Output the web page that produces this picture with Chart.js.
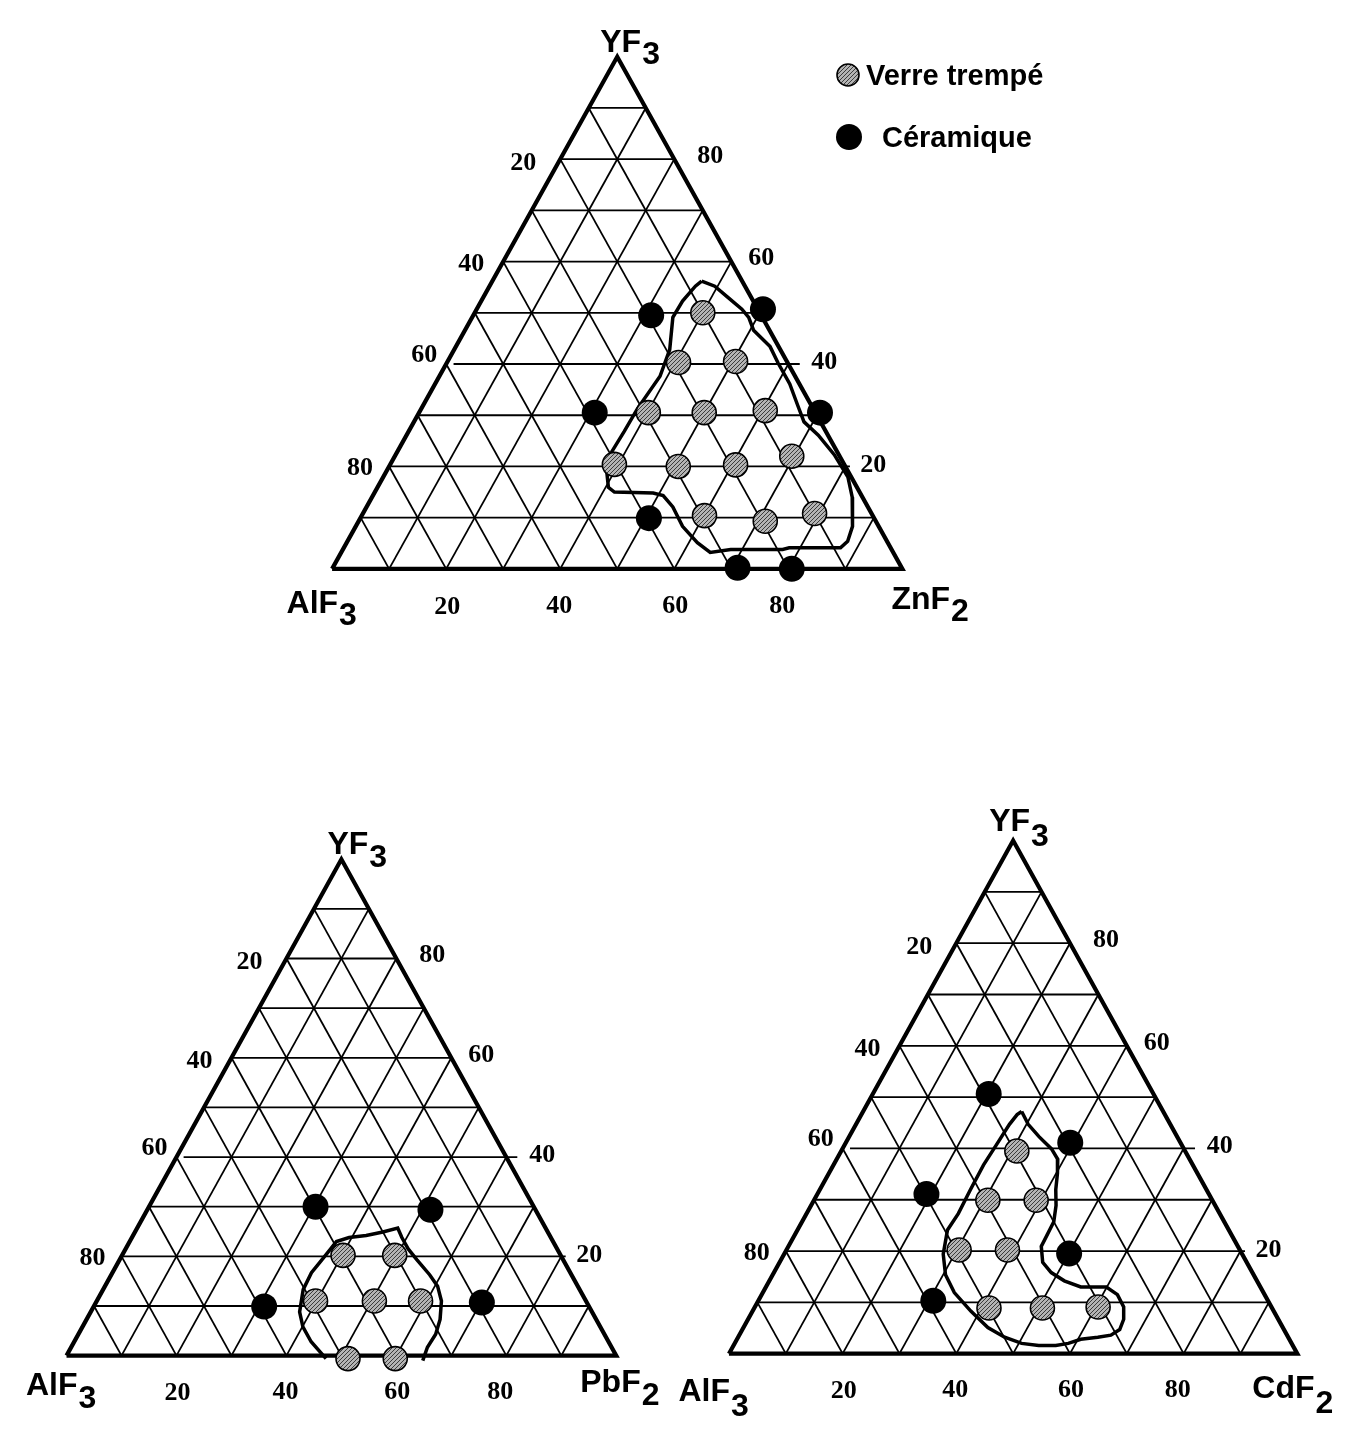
<!DOCTYPE html>
<html>
<head>
<meta charset="utf-8">
<script src="https://cdn.jsdelivr.net/npm/chart.js@4.4.0/dist/chart.umd.min.js"></script>
<style>
html,body{margin:0;padding:0;background:#fff;}
#wrap{position:relative;width:1356px;height:1433px;}
</style>
</head>
<body>
<div id="wrap"><canvas id="c" width="1356" height="1433"></canvas></div>
<script>
// ---------- DATA (compositions: [second component %, YF3 %]; AlF3 = remainder) ----------
const tickValues = [20, 40, 60, 80];
const seriesNames = ['Verre trempé', 'Céramique'];

// AlF3 - ZnF2 - YF3
const znNames = ['AlF', '3', 'ZnF', '2', 'YF', '3'];
const znVerre = [[40,50],[40.6,40.3],[50.5,40.5],[40.2,30.5],[50,30.5],[60.5,30.9],[39.3,20.4],[50.7,20],[60.6,20.3],[69.6,22],[60.1,10.4],[71.3,9.3],[79.2,10.8]];
const znCeram = [[31.2,49.5],[50.2,50.7],[30.8,30.5],[70.3,30.5],[50.6,9.9],[71,0.2],[80.6,0]];
const znContour = [[36.7,56.2],[39.5,55.2],[42.9,53.0],[46.5,50.7],[48.5,49.1],[50.6,46.6],[55.1,43.4],[58.1,40.2],[62.2,36.1],[65.7,31.9],[68.4,28.7],[72.2,26.1],[76.9,22.3],[81.5,17.9],[84.2,14.0],[87.1,8.3],[87.7,5.4],[87.1,4.1],[78.1,4.1],[77.1,3.8],[68.0,3.8],[64.7,3.2],[61.5,5.1],[57.3,8.3],[53.7,12.1],[50.9,14.3],[48.9,14.8],[42.0,15.0],[40.5,15.9],[38.6,19.1],[37.6,22.9],[37.8,26.8],[37.9,31.3],[38.7,37.6],[37.8,42.8],[35.2,49.1],[35.3,52.3],[36.1,55.2]];

// AlF3 - PbF2 - YF3
const pbNames = ['AlF', '3', 'PbF', '2', 'YF', '3'];
const pbVerre = [[40.2,20.2],[49.6,20.2],[39.8,11],[50.5,11],[58.9,11],[51.5,-0.6],[60.1,-0.6]];
const pbCeram = [[30.3,30],[51.5,29.4],[31,9.9],[70.2,10.7]];
const pbContour = [[47.5,-0.6],[43.1,2.8],[40.1,5.8],[38.0,8.8],[36.4,13.3],[36.2,16.7],[36.7,18.9],[37.3,21.5],[37.6,23.0],[39.5,23.8],[42.4,24.2],[45.1,24.9],[47.4,25.7],[49.1,23.8],[51.4,21.5],[54.1,19.3],[57.9,16.3],[60.5,14.0],[62.7,11.0],[64.3,7.3],[65.0,4.3],[64.8,1.7],[65.3,-1.0]];

// AlF3 - CdF2 - YF3
const cdNames = ['AlF', '3', 'CdF', '2', 'YF', '3'];
const cdVerre = [[30.9,39.5],[30.6,29.9],[39.1,29.9],[30.4,20.2],[38.9,20.2],[41.3,8.9],[50.7,8.9],[60.4,9.1]];
const cdCeram = [[20.4,50.6],[39.5,41.1],[19.2,31.1],[50.1,19.5],[30.8,10.3]];
const cdContour = [[27.9,47.2],[30.3,44.7],[33.4,42.3],[36.8,39.9],[38.9,37.9],[40.2,35.2],[41.5,32.0],[43.1,28.9],[44.3,25.7],[44.4,23.3],[44.5,20.9],[46.3,17.8],[48.8,15.8],[51.9,14.2],[55.4,13.0],[59.9,13.0],[62.6,11.5],[64.9,9.1],[66.1,6.7],[66.4,4.7],[65.4,3.6],[63.3,3.2],[60.5,2.8],[58.7,2.0],[56.7,1.6],[53.7,1.6],[50.5,2.0],[46.9,3.2],[43.0,5.1],[38.4,8.3],[33.7,11.9],[30.4,15.4],[28.0,19.4],[26.4,24.1],[26.7,27.3],[26.5,32.0],[26.4,36.8],[26.7,40.7],[27.0,44.7],[27.4,46.6]];

// ---------- LAYOUT ----------
const W = 1356, H = 1433;
const DIAGRAMS = [
  { names: znNames, verre: znVerre, ceram: znCeram, contour: znContour, closed: true,
    geo: { lx: 325, rx: 907, base: 566, apex: 44 },
    lab: { apex: [-17, -5], left: [6, 44], right: [-11, 40], sub: 12 } },
  { names: pbNames, verre: pbVerre, ceram: pbCeram, contour: pbContour, closed: false,
    geo: { lx: 54, rx: 615, base: 1368, apex: 862 },
    lab: { apex: [-14, -5], left: [11, 39], right: [-36, 36], sub: 13 } },
  { names: cdNames, verre: cdVerre, ceram: cdCeram, contour: cdContour, closed: true,
    geo: { lx: 730, rx: 1310, base: 1366, apex: 843 },
    lab: { apex: [-24, -10], left: [1, 47], right: [-45, 44], sub: 15 } }
];
const LEFT_OFF  = { 20: [-37, 4], 40: [-32, 3], 60: [-22, -9], 80: [-29, 2] };
const RIGHT_OFF = { 20: [28, -1], 40: [36, -2], 60: [30, -3], 80: [36, -3] };
const BOTTOM_OFF = { 20: [1, 38], 40: [-1, 37], 60: [1, 37], 80: [-6, 37] };

function tern(b, c) { return { x: b + c / 2, y: c }; }

// hatched grey fill
const pc = document.createElement('canvas'); pc.width = 4; pc.height = 4;
const pg = pc.getContext('2d');
pg.fillStyle = '#b4b4b4'; pg.fillRect(0, 0, 4, 4);
pg.fillStyle = '#3c3c3c';
for (let i = 0; i < 4; i++) pg.fillRect(i, 3 - i, 1, 1);
const hatch = pg.createPattern(pc, 'repeat');

const datasets = [];
const scales = {};
DIAGRAMS.forEach((d, i) => {
  const xid = 'x' + i, yid = 'y' + i, g = d.geo;
  const pxX = (g.rx - g.lx) / 100, pxY = (g.base - g.apex) / 100;
  scales[xid] = { type: 'linear', axis: 'x', display: false, min: -g.lx / pxX, max: (W - g.lx) / pxX };
  scales[yid] = { type: 'linear', axis: 'y', display: false, min: -(H - g.base) / pxY, max: 100 + g.apex / pxY };
  const ax = { xAxisID: xid, yAxisID: yid };
  const line = (pts, w, order) => ({ ...ax, data: pts, showLine: true, pointRadius: 0, borderColor: '#000',
    borderWidth: w, tension: 0, fill: false, order: order, borderJoinStyle: 'miter', borderCapStyle: 'butt' });

  datasets.push({ ...ax, label: seriesNames[1], data: d.ceram.map(p => tern(p[0], p[1])), showLine: false,
    pointRadius: 13, pointBackgroundColor: '#000', pointBorderColor: '#000', pointBorderWidth: 0, order: 0 });
  datasets.push({ ...ax, label: seriesNames[0], data: d.verre.map(p => tern(p[0], p[1])), showLine: false,
    pointRadius: 12, pointBackgroundColor: hatch, pointBorderColor: '#000', pointBorderWidth: 1.6, order: 0 });

  const cpts = d.contour.map(p => tern(p[0], p[1]));
  if (d.closed) cpts.push(cpts[0]);
  datasets.push(line(cpts, 3.5, 1));

  // grid (10 % steps)
  for (let k = 1; k <= 9; k++) {
    const v = k * 10;
    let x0 = v / 2, x1 = 100 - v / 2;
    if (v === 40) { x0 += 1.3; x1 += 2; }
    if (v === 20) { x1 += 0.8; }
    datasets.push(line([{ x: x0, y: v }, { x: x1, y: v }], 1.8, 2));
    datasets.push(line([tern(v, 0), tern(v, 100 - v)], 1.8, 2));
    datasets.push(line([tern(100 - v, 0), tern(0, 100 - v)], 1.8, 2));
  }
  datasets.push(line([tern(0, 0), tern(100, 0), tern(0, 100), tern(0, 0)], 4.2, 1));
});

function chem(ctx, main, sub, x, y, align, subDy) {
  const w = ctx.measureText(main).width;
  const left = align === 'left' ? x : x - w;
  ctx.textAlign = 'left';
  ctx.fillText(main, left, y);
  ctx.fillText(sub, left + w + 1, y + subDy);
}

const textPlugin = {
  id: 'ternaryText',
  afterDraw(chart) {
    const ctx = chart.ctx;
    ctx.save();
    ctx.fillStyle = '#000';
    DIAGRAMS.forEach((d, i) => {
      const xs = chart.scales['x' + i], ys = chart.scales['y' + i];
      const P = (b, c) => [xs.getPixelForValue(b + c / 2), ys.getPixelForValue(c)];
      ctx.font = 'bold 26px "Liberation Serif", "Times New Roman", serif';
      ctx.textBaseline = 'middle';
      ctx.textAlign = 'center';
      tickValues.forEach(v => {
        let [x, y] = P(0, 100 - v);
        ctx.fillText(String(v), x + LEFT_OFF[v][0], y + LEFT_OFF[v][1]);
        [x, y] = P(100 - v, v);
        ctx.fillText(String(v), x + RIGHT_OFF[v][0], y + RIGHT_OFF[v][1]);
        [x, y] = P(v, 0);
        ctx.fillText(String(v), x + BOTTOM_OFF[v][0], y + BOTTOM_OFF[v][1]);
      });
      ctx.font = 'bold 32px "Liberation Sans", Arial, sans-serif';
      ctx.textBaseline = 'alphabetic';
      const L = P(0, 0), R = P(100, 0), A = P(0, 100), lb = d.lab;
      chem(ctx, d.names[0], d.names[1], L[0] + lb.left[0], L[1] + lb.left[1], 'right', lb.sub);
      chem(ctx, d.names[2], d.names[3], R[0] + lb.right[0], R[1] + lb.right[1], 'left', lb.sub);
      chem(ctx, d.names[4], d.names[5], A[0] + lb.apex[0], A[1] + lb.apex[1], 'left', lb.sub);
    });
    // legend
    ctx.beginPath(); ctx.arc(848, 75, 11, 0, Math.PI * 2);
    ctx.fillStyle = hatch; ctx.fill(); ctx.lineWidth = 1.6; ctx.strokeStyle = '#000'; ctx.stroke();
    ctx.beginPath(); ctx.arc(849, 137, 13, 0, Math.PI * 2);
    ctx.fillStyle = '#000'; ctx.fill();
    ctx.font = 'bold 29px "Liberation Sans", Arial, sans-serif';
    ctx.textAlign = 'left'; ctx.textBaseline = 'alphabetic';
    ctx.fillText(seriesNames[0], 866, 85);
    ctx.fillText(seriesNames[1], 882, 147);
    ctx.restore();
  }
};

new Chart(document.getElementById('c'), {
  type: 'scatter',
  data: { datasets: datasets },
  options: {
    responsive: false,
    devicePixelRatio: 1,
    animation: false,
    events: [],
    layout: { padding: 0 },
    scales: scales,
    plugins: { legend: { display: false }, tooltip: { enabled: false }, title: { display: false } }
  },
  plugins: [textPlugin]
});
</script>
</body>
</html>
